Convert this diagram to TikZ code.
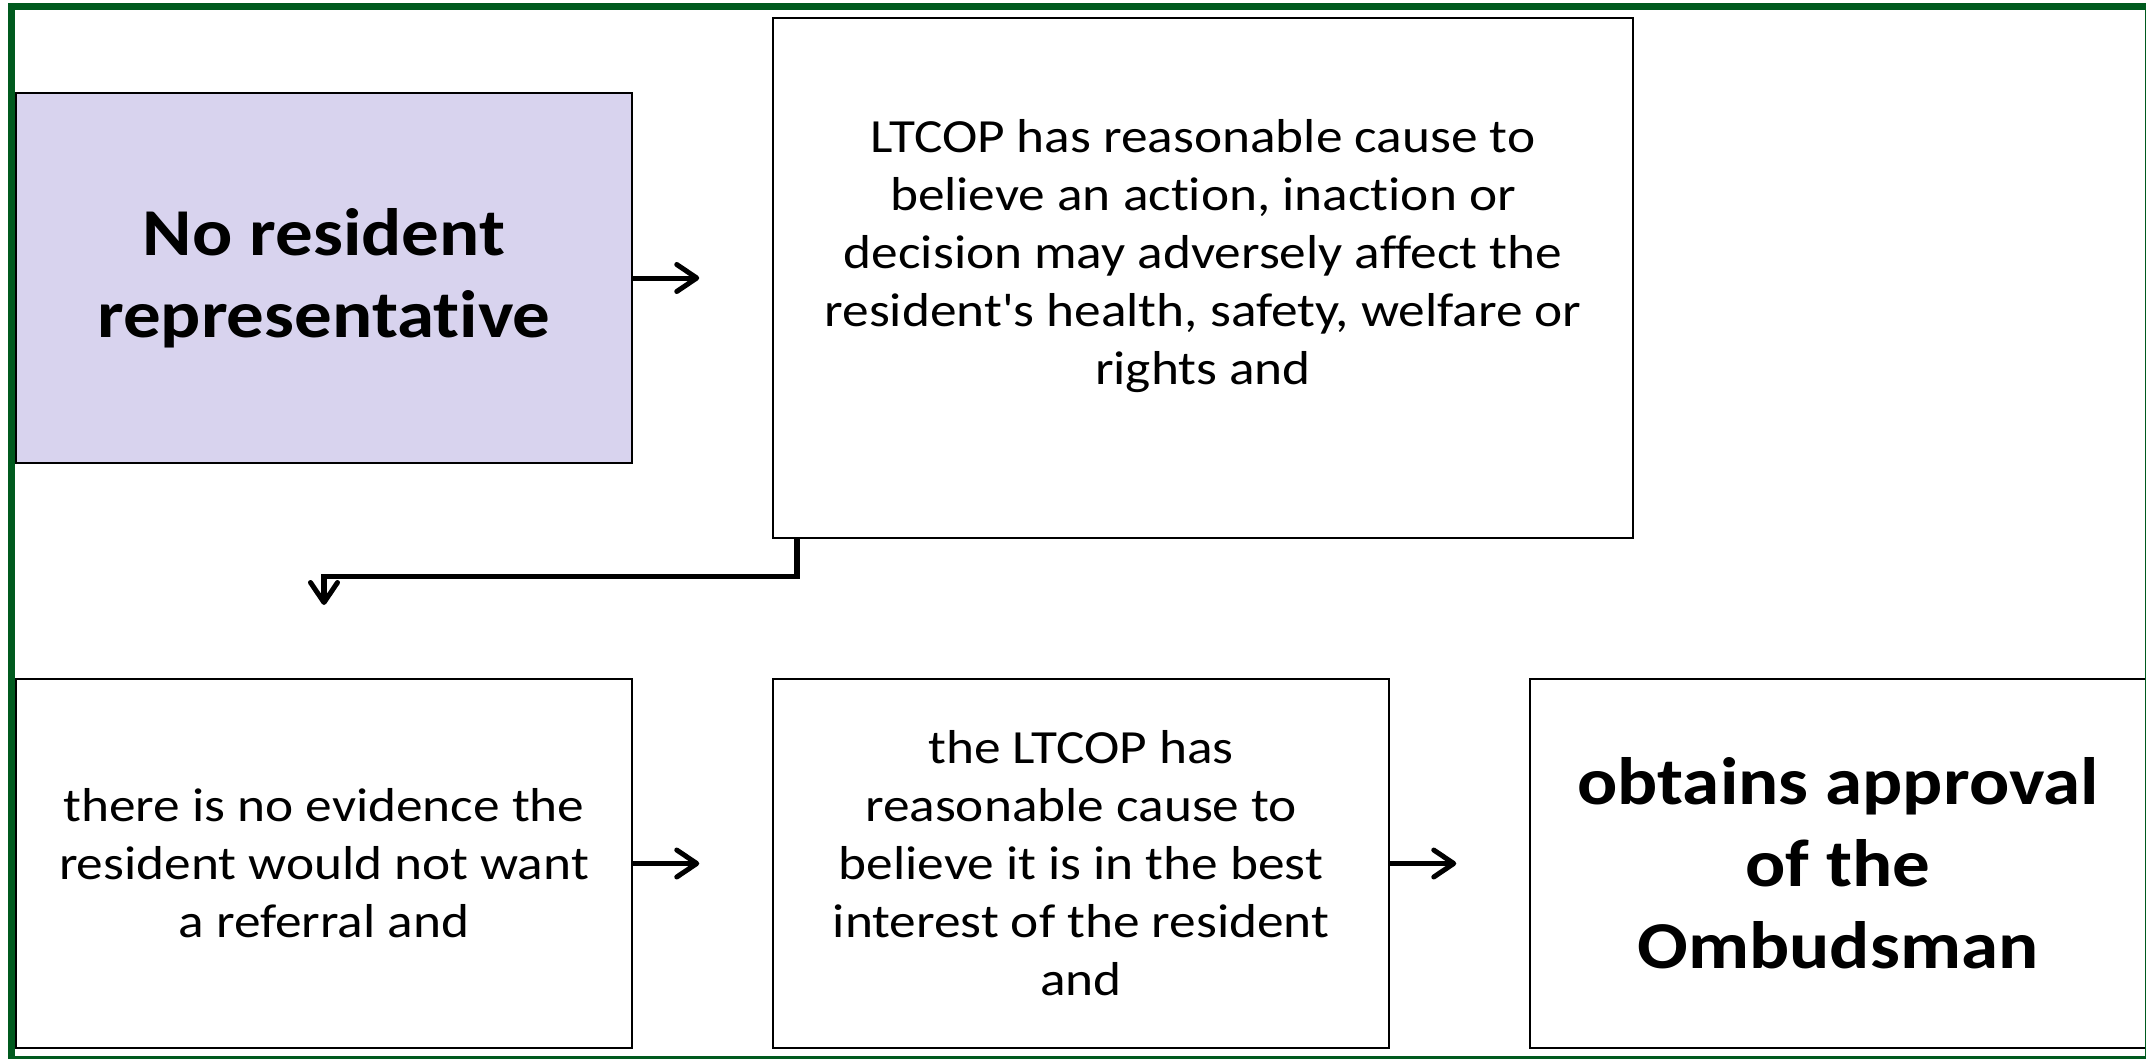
\documentclass[tikz,border=0pt]{standalone}
\usepackage{fontspec}
\setmainfont{Carlito}[FakeStretch=1.12, Ligatures={TeXOff,NoCommon}]
\usetikzlibrary{arrows.meta}
\definecolor{framegreen}{RGB}{0,90,30}
\definecolor{lav}{RGB}{216,211,238}
\tikzset{
  box/.style={draw=black, line width=2.5pt, rectangle, inner sep=0pt, align=center, fill=white},
  txt/.style={align=center, font=\fontsize{47.6}{58}\selectfont},
  bigtxt/.style={align=center, font=\fontsize{67}{82}\selectfont\bfseries},
  arr/.style={line width=5pt, -{Straight Barb[length=20pt, width=27pt, line width=5pt, round]}},
  elbow/.style={line width=5.5pt, -{Straight Barb[length=20pt, width=27pt, line width=5pt, round]}}
}
\begin{document}
\begin{tikzpicture}[x=1pt, y=-1pt]
\useasboundingbox (0,0) rectangle (2146,1058);
\fill[white] (0,0) rectangle (2146,1058);
% boxes
\node[box, fill=lav, minimum width=616pt, minimum height=370pt, bigtxt] (rep) at (324,278) {No resident\\representative};
\node[box, minimum width=860pt, minimum height=520pt] (cause) at (1203,278) {};
\node[txt, anchor=center] (causetxt) at (1203,256) {LTCOP has reasonable cause to\\believe an action, inaction or\\decision may adversely affect the\\resident's health, safety, welfare or\\rights and};
\node[box, minimum width=616pt, minimum height=369pt, txt] (noevid) at (324,863.5) {there is no evidence the\\resident would not want\\a referral and};
\node[box, minimum width=616pt, minimum height=369pt, txt] (best) at (1081,863.5) {the LTCOP has\\reasonable cause to\\believe it is in the best\\interest of the resident\\and};
\node[box, minimum width=616pt, minimum height=369pt, bigtxt] (approval) at (1838,863.5) {obtains approval\\of the\\Ombudsman};
% connectors
\draw[arr] (rep.east) -- ++(66,0);
\draw[arr] (noevid.east) -- ++(66,0);
\draw[arr] (best.east) -- ++(66,0);
\coordinate (elbowend) at (324,605);
\draw[elbow] ([xshift=25pt]cause.south west) -- ++(0,37) -| (elbowend);
% frame
\draw[framegreen, line width=7pt] (11.5,6.5) rectangle (2148,1059.5);
\end{tikzpicture}
\end{document}
